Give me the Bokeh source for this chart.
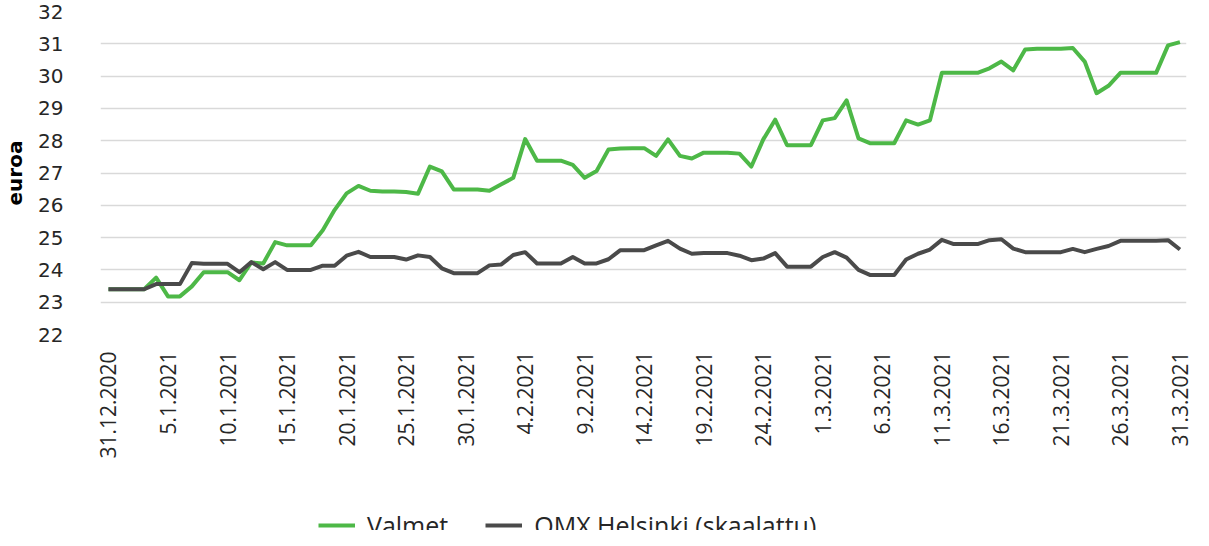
import math
from bokeh.plotting import figure
from bokeh.models import Legend, LegendItem, FixedTicker, ColumnDataSource
from bokeh.layouts import column
from bokeh.embed import file_html
from bokeh.resources import INLINE

# x positions: days since 31.12.2020
days = list(range(91))
tick_days = list(range(0, 91, 5))
tick_labels = ["31.12.2020", "5.1.2021", "10.1.2021", "15.1.2021", "20.1.2021",
               "25.1.2021", "30.1.2021", "4.2.2021", "9.2.2021", "14.2.2021",
               "19.2.2021", "24.2.2021", "1.3.2021", "6.3.2021", "11.3.2021",
               "16.3.2021", "21.3.2021", "26.3.2021", "31.3.2021"]

valmet = [23.40, 23.40, 23.40, 23.40, 23.76, 23.18, 23.18, 23.49, 23.93, 23.93,
          23.93, 23.68, 24.23, 24.20, 24.86, 24.76, 24.76, 24.76, 25.23, 25.86,
          26.37, 26.60, 26.45, 26.43, 26.43, 26.41, 26.36, 27.20, 27.05, 26.49,
          26.49, 26.49, 26.45, 26.65, 26.85, 28.05, 27.38, 27.38, 27.38, 27.25,
          26.85, 27.06, 27.73, 27.76, 27.77, 27.77, 27.53, 28.04, 27.53, 27.45,
          27.63, 27.63, 27.63, 27.60, 27.20, 28.04, 28.65, 27.86, 27.86, 27.86,
          28.63, 28.70, 29.25, 28.07, 27.92, 27.92, 27.92, 28.63, 28.50, 28.63,
          30.10, 30.10, 30.10, 30.10, 30.24, 30.45, 30.18, 30.82, 30.85, 30.85,
          30.85, 30.87, 30.45, 29.47, 29.70, 30.10, 30.10, 30.10, 30.10, 30.95,
          31.05]

omx = [23.40, 23.40, 23.40, 23.40, 23.56, 23.56, 23.56, 24.21, 24.19, 24.19,
       24.19, 23.93, 24.24, 24.02, 24.24, 24.00, 24.00, 24.00, 24.13, 24.13,
       24.44, 24.56, 24.40, 24.40, 24.40, 24.32, 24.45, 24.40, 24.05, 23.90,
       23.90, 23.90, 24.14, 24.17, 24.46, 24.55, 24.20, 24.20, 24.20, 24.40,
       24.20, 24.20, 24.33, 24.61, 24.61, 24.61, 24.76, 24.90, 24.66, 24.50,
       24.52, 24.52, 24.52, 24.44, 24.30, 24.35, 24.52, 24.10, 24.10, 24.10,
       24.40, 24.55, 24.38, 24.00, 23.84, 23.84, 23.84, 24.32, 24.50, 24.63,
       24.93, 24.80, 24.80, 24.80, 24.92, 24.95, 24.66, 24.55, 24.55, 24.55,
       24.55, 24.65, 24.55, 24.65, 24.74, 24.90, 24.90, 24.90, 24.90, 24.92,
       24.63]

series_names = ["Valmet", "OMX Helsinki (skaalattu)"]
y_ticks = list(range(22, 33))

GREEN = "#4DB847"
GRAY = "#4A4A4A"
TEXT = "#262626"

p = figure(width=1193, height=461, output_backend="svg",
           toolbar_location=None,
           x_range=(-0.67, 90.55), y_range=(22, 32),
           min_border_left=97, min_border_right=7, min_border_top=11,
           min_border_bottom=10)
p.outline_line_color = None
p.background_fill_color = "white"
p.border_fill_color = "white"

src = ColumnDataSource(dict(x=days, valmet=valmet, omx=omx))
r1 = p.line("x", "valmet", source=src, line_color=GREEN, line_width=4,
            line_join="round")
r2 = p.line("x", "omx", source=src, line_color=GRAY, line_width=4,
            line_join="round")

# axes
p.xaxis.ticker = FixedTicker(ticks=tick_days)
p.xaxis.major_label_overrides = {d: l for d, l in zip(tick_days, tick_labels)}
p.xaxis.major_label_orientation = math.pi / 2
p.xaxis.major_label_text_font = "Open Sans"
p.xaxis.major_label_text_font_size = "21px"
p.xaxis.major_label_text_color = TEXT
p.xaxis.major_label_standoff = 11
p.xaxis.axis_line_color = None
p.xaxis.major_tick_line_color = None
p.xaxis.minor_tick_line_color = None

p.yaxis.ticker = FixedTicker(ticks=y_ticks)
p.yaxis.major_label_text_font = "DejaVu Sans"
p.yaxis.major_label_text_font_size = "20px"
p.yaxis.major_label_text_color = TEXT
p.yaxis.major_label_standoff = 31
p.yaxis.axis_line_color = None
p.yaxis.major_tick_line_color = None
p.yaxis.minor_tick_line_color = None
p.yaxis.axis_label = "euroa"
p.yaxis.axis_label_text_font = "DejaVu Sans"
p.yaxis.axis_label_text_font_style = "bold"
p.yaxis.axis_label_text_font_size = "20px"
p.yaxis.axis_label_text_color = "#000000"
p.yaxis.axis_label_standoff = 8

p.xgrid.grid_line_color = None
p.ygrid.ticker = FixedTicker(ticks=y_ticks)
p.ygrid.grid_line_color = "#D9D9D9"
p.ygrid.grid_line_width = 1.5

# legend strip below the chart (its frame is aligned with the chart's frame)
p2 = figure(width=1193, height=69, output_backend="svg", toolbar_location=None,
            x_range=(0, 1), y_range=(0, 1), x_axis_type=None, y_axis_type=None,
            min_border=0)
p2.outline_line_color = None
p2.background_fill_color = "white"
p2.border_fill_color = "white"
p2.grid.grid_line_color = None
# legend-only proxies, placed outside the visible range of the strip
lg1 = p2.line(x=[-5, -4], y=[-5, -5], line_color=GREEN, line_width=4)
lg2 = p2.line(x=[-5, -4], y=[-5, -5], line_color=GRAY, line_width=4)

legend = Legend(items=[LegendItem(label=series_names[0], renderers=[lg1]),
                       LegendItem(label=series_names[1], renderers=[lg2])],
                orientation="horizontal", location=(218, -12),
                glyph_width=37, glyph_height=20, label_standoff=12, spacing=37,
                padding=0, margin=0, border_line_color=None,
                background_fill_alpha=0,
                label_text_font="Open Sans", label_text_font_size="25px",
                label_text_color=TEXT)
p2.add_layout(legend, "center")

open("out.html", "w").write(file_html(column(p, p2), INLINE))
